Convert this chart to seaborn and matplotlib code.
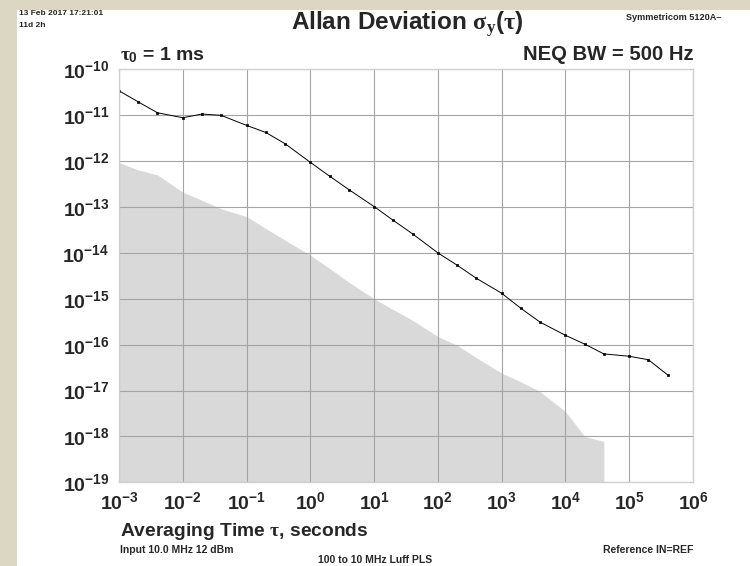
import numpy as np
import pandas as pd
import matplotlib
matplotlib.use("Agg")
import matplotlib.pyplot as plt
import seaborn as sns
from matplotlib.patches import Rectangle
from matplotlib.ticker import LogLocator, LogFormatterSciNotation, NullLocator

# Averaging times (s) and measured Allan deviation
tau = [1e-3, 2e-3, 4e-3, 1e-2, 2e-2, 4e-2, 1e-1, 2e-1, 4e-1,
       1, 2, 4, 10, 20, 40, 100, 200, 400,
       1e3, 2e3, 4e3, 1e4, 2e4, 4e4, 1e5, 2e5, 4e5]
adev = [3.4e-11, 1.95e-11, 1.13e-11, 8.8e-12, 1.06e-11, 9.9e-12, 6.0e-12, 4.2e-12, 2.4e-12,
        9.4e-13, 4.7e-13, 2.4e-13, 1.02e-13, 5.1e-14, 2.6e-14, 1.0e-14, 5.4e-15, 2.8e-15,
        1.32e-15, 6.2e-16, 3.1e-16, 1.6e-16, 1.03e-16, 6.3e-17, 5.6e-17, 4.7e-17, 2.2e-17]

# Instrument noise floor (shaded), up to 4e4 s
floor_tau = tau[:24]
floor_adev = [9.3e-13, 6.4e-13, 5.0e-13, 2.1e-13, 1.4e-13, 9.1e-14, 6.2e-14, 3.4e-14, 1.9e-14,
              8.9e-15, 4.6e-15, 2.3e-15, 1.0e-15, 5.8e-16, 3.4e-16, 1.5e-16, 9.8e-17, 5.2e-17,
              2.4e-17, 1.55e-17, 9.5e-18, 3.5e-18, 1.0e-18, 7.8e-19]

x_limits = [1e-3, 1e6]
y_limits = [1e-19, 1e-10]

sns.set_style("white")
plt.rcParams["font.family"] = ["Liberation Sans", "DejaVu Sans"]
plt.rcParams["font.weight"] = "bold"
plt.rcParams["mathtext.fontset"] = "custom"
plt.rcParams["mathtext.rm"] = "Liberation Sans:bold"
plt.rcParams["mathtext.bf"] = "Liberation Sans:bold"
plt.rcParams["mathtext.it"] = "Liberation Serif"
plt.rcParams["axes.unicode_minus"] = True

df = pd.DataFrame({"tau": tau, "adev": adev})

fig = plt.figure(figsize=(7.5, 5.66), dpi=100, facecolor="white")
ax = fig.add_axes([0.1587, 0.1477, 0.7653, 0.7299])

# beige frame strips on the left and top
fig.patches.append(Rectangle((0, 0), 17 / 750, 1, transform=fig.transFigure,
                             facecolor="#dcd7c3", edgecolor="none", zorder=-5))
fig.patches.append(Rectangle((0, 1 - 10 / 566), 1, 10 / 566, transform=fig.transFigure,
                             facecolor="#dcd7c3", edgecolor="none", zorder=-5))

ax.fill_between(floor_tau, floor_adev, y_limits[0], color="#d9d9d9", linewidth=0, zorder=1)
sns.lineplot(data=df, x="tau", y="adev", ax=ax, color="black", linewidth=0.7,
             marker="s", markersize=2.0, markeredgewidth=0.5, markeredgecolor="black", zorder=3)

ax.set_xscale("log")
ax.set_yscale("log")
ax.set_xlim(x_limits)
ax.set_ylim(y_limits)
ax.xaxis.set_major_locator(LogLocator(base=10, numticks=20))
ax.yaxis.set_major_locator(LogLocator(base=10, numticks=20))
ax.xaxis.set_minor_locator(NullLocator())
ax.yaxis.set_minor_locator(NullLocator())
ax.xaxis.set_major_formatter(LogFormatterSciNotation())
ax.yaxis.set_major_formatter(LogFormatterSciNotation())

ax.grid(True, which="major", color="#a4a4a4", linewidth=0.8, zorder=2)
ax.set_axisbelow(False)
for s in ax.spines.values():
    s.set_color("#d0d0d0")
    s.set_linewidth(1.0)
    s.set_zorder(4)

ax.tick_params(axis="y", length=4, color="#cccccc", labelsize=14, pad=3)
ax.tick_params(axis="x", length=0, labelsize=14, pad=6)
for lab in ax.get_xticklabels() + ax.get_yticklabels():
    lab.set_fontweight("bold")

ax.set_xlabel("")
ax.set_ylabel("")

# texts
fig.text(19 / 750, 1 - 13.5 / 566, "13 Feb 2017 17:21:01", fontsize=6.0,
         fontweight="bold", va="center", ha="left")
fig.text(19 / 750, 1 - 25.5 / 566, "11d 2h", fontsize=6.0,
         fontweight="bold", va="center", ha="left")
fig.text(722 / 750, 1 - 17 / 566, "Symmetricom 5120A\u2013", fontsize=6.6,
         fontweight="bold", va="center", ha="right")
fig.text(407 / 750, 1 - 24 / 566, r"Allan Deviation $\sigma_y(\tau)$", fontsize=17.5,
         fontweight="bold", va="center", ha="center")
fig.text(120 / 750, 1 - 55 / 566, r"$\tau_0$ = 1 ms", fontsize=14,
         fontweight="bold", va="center", ha="left")
fig.text(694 / 750, 1 - 55 / 566, "NEQ BW = 500 Hz", fontsize=14.6,
         fontweight="bold", va="center", ha="right")
fig.text(120 / 750, 1 - 531 / 566, r"Averaging Time $\tau$, seconds", fontsize=13.9,
         fontweight="bold", va="center", ha="left")
fig.text(120 / 750, 1 - 550 / 566, "Input 10.0 MHz 12 dBm", fontsize=7.5,
         fontweight="bold", va="center", ha="left")
fig.text(693 / 750, 1 - 550 / 566, "Reference IN=REF", fontsize=7.5,
         fontweight="bold", va="center", ha="right")
fig.text(375 / 750, 1 - 560 / 566, "100 to 10 MHz Luff PLS", fontsize=7.5,
         fontweight="bold", va="center", ha="center")

fig.savefig("out.png", dpi=100, facecolor="white")
